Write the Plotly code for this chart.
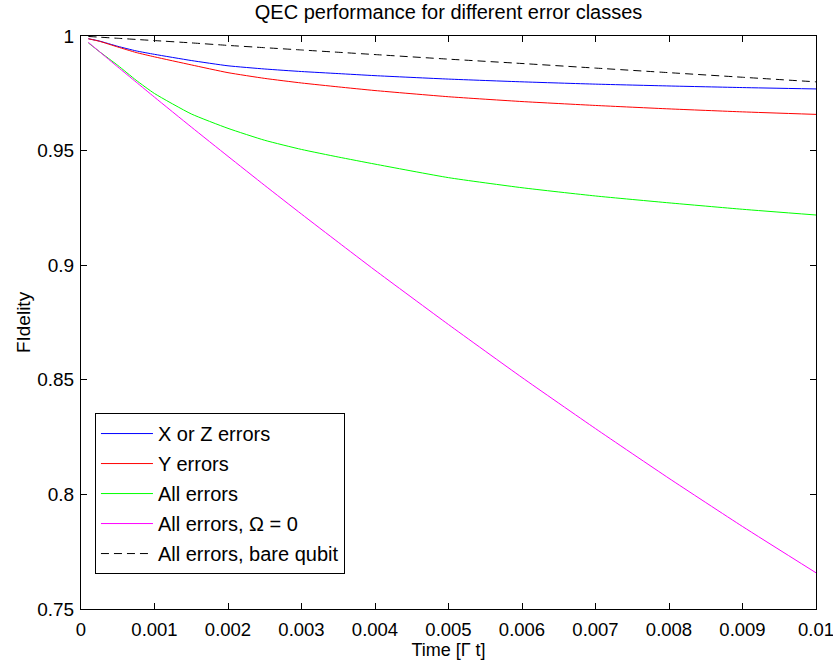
import plotly.graph_objects as go

time = [0.0001, 0.00025, 0.0005, 0.00075, 0.001, 0.0015, 0.002, 0.0025, 0.003,
        0.0035, 0.004, 0.005, 0.006, 0.007, 0.008, 0.009, 0.01]

xz_errors = [0.9988, 0.9978, 0.9955, 0.9935, 0.9920, 0.9893, 0.9870, 0.9856, 0.9845,
             0.9836, 0.9827, 0.9812, 0.9800, 0.9790, 0.9782, 0.9775, 0.9769]
y_errors = [0.9988, 0.9977, 0.9952, 0.9928, 0.9909, 0.9874, 0.9840, 0.9815, 0.9795,
            0.9778, 0.9762, 0.9735, 0.9714, 0.9697, 0.9682, 0.9669, 0.9658]
all_errors = [0.9970, 0.9932, 0.9872, 0.9807, 0.9749, 0.9660, 0.9597, 0.9545, 0.9505,
              0.9472, 0.9441, 0.9382, 0.9338, 0.9302, 0.9272, 0.9244, 0.9219]
all_errors_omega0 = [0.9972, 0.9932, 0.9865, 0.9799, 0.9733, 0.9603, 0.9475, 0.9348, 0.9223,
                     0.9100, 0.8978, 0.8741, 0.8510, 0.8287, 0.8070, 0.7860, 0.7658]
bare_qubit = [0.9998, 0.9995, 0.9990, 0.9985, 0.9980, 0.9970, 0.9959, 0.9949, 0.9939,
              0.9929, 0.9919, 0.9899, 0.9880, 0.9860, 0.9840, 0.9820, 0.9800]

x_ticks = [0, 0.001, 0.002, 0.003, 0.004, 0.005, 0.006, 0.007, 0.008, 0.009, 0.01]
x_tick_labels = ["0", "0.001", "0.002", "0.003", "0.004", "0.005", "0.006", "0.007",
                 "0.008", "0.009", "0.01"]
y_ticks = [0.75, 0.8, 0.85, 0.9, 0.95, 1.0]
y_tick_labels = ["0.75", "0.8", "0.85", "0.9", "0.95", "1"]

series = [
    ("X or Z errors", xz_errors, "#0000ff", "solid"),
    ("Y errors", y_errors, "#ff0000", "solid"),
    ("All errors", all_errors, "#00ff00", "solid"),
    ("All errors, Ω = 0", all_errors_omega0, "#ff00ff", "solid"),
    ("All errors, bare qubit", bare_qubit, "#000000", "8px,5px"),
]

fig = go.Figure()
for i, (name, vals, color, dash) in enumerate(series):
    fig.add_trace(go.Scatter(
        x=time, y=vals, mode="lines", name=name, legendgroup=f"g{i}",
        line=dict(color=color, width=1, dash=dash, shape="spline", smoothing=0.5),
    ))

font_family = "Liberation Sans, Arial, sans-serif"
fig.update_layout(
    width=833, height=661,
    margin=dict(l=81, r=17, t=36, b=52),
    paper_bgcolor="white", plot_bgcolor="white",
    font=dict(family=font_family, size=19, color="black"),
    title=dict(text="QEC performance for different error classes", x=0.5385, xanchor="center",
               y=0.982, yanchor="middle", font=dict(size=20)),
    showlegend=True,
    legend=dict(x=0.019, y=0.061, xanchor="left", yanchor="bottom",
                bordercolor="black", borderwidth=1, bgcolor="white",
                traceorder="grouped", tracegroupgap=1, itemwidth=52,
                font=dict(size=20)),
    xaxis=dict(range=[0, 0.01], tickvals=x_ticks, ticktext=x_tick_labels,
               ticks="inside", ticklen=6, tickcolor="black", showline=True,
               linecolor="black", linewidth=1, mirror="ticks", showgrid=False,
               zeroline=False, ticklabeloverflow="allow", automargin=False,
               ticklabelstandoff=4, tickfont=dict(size=18.5),
               title=dict(text="Time [Γ t]", standoff=0, font=dict(size=18))),
    yaxis=dict(range=[0.75, 1.0], tickvals=y_ticks, ticktext=y_tick_labels,
               ticks="inside", ticklen=6, tickcolor="black", showline=True,
               linecolor="black", linewidth=1, mirror="ticks", showgrid=False,
               zeroline=False, automargin=False, tickfont=dict(size=19),
               ticklabelstandoff=2,
               title=dict(text="FIdelity", standoff=1, font=dict(size=19))),
)

fig.write_html("out.html", config={"displayModeBar": False},
               post_script="document.body.style.margin='0';")
